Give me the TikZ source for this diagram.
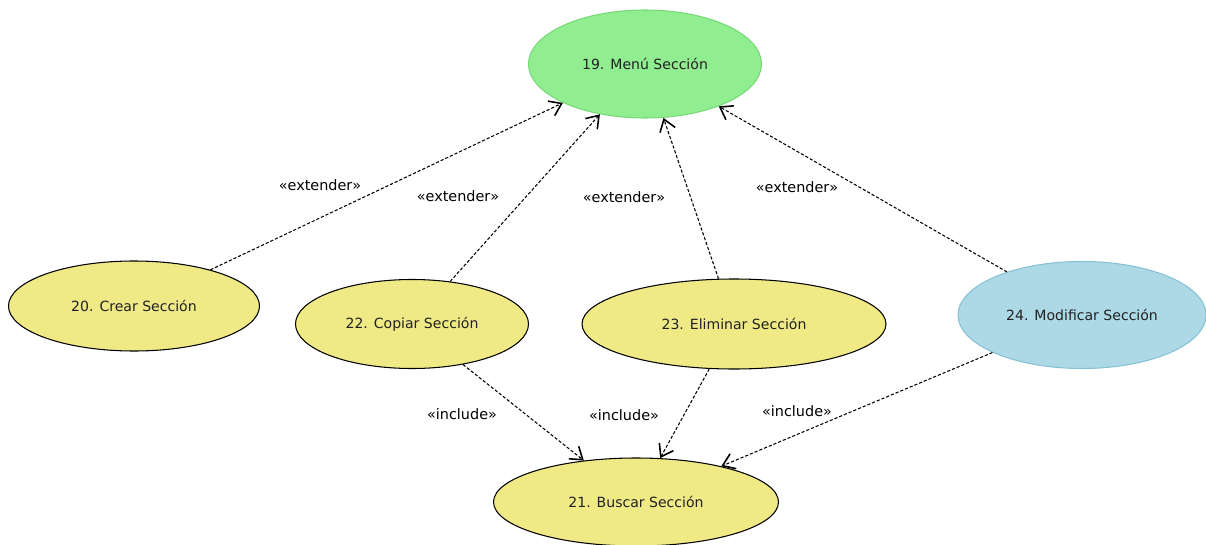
\documentclass[tikz,border=0pt]{standalone}
\usepackage{fontspec}
\setmainfont{DejaVu Sans}
\usetikzlibrary{shapes.geometric, arrows.meta}

\definecolor{menugreen}{HTML}{90EE90}
\definecolor{menuline}{HTML}{78D878}
\definecolor{casekhaki}{HTML}{EFEA86}
\definecolor{caseblue}{HTML}{ADD8E6}
\definecolor{blueline}{HTML}{86C2D6}
\definecolor{casetext}{HTML}{222222}

\tikzset{
  usecase/.style={ellipse, draw=black, line width=0.6pt, fill=casekhaki,
    inner sep=0pt, text=casetext, font=\fontsize{8}{10}\selectfont},
  relation/.style={draw=black, line width=0.6pt, dash pattern=on 1.8pt off 1.1pt,
    -{Straight Barb[length=2.3mm, width=3.2mm, line width=0.9pt]}},
  stereo/.style={font=\fontsize{8.2}{10}\selectfont, inner sep=0pt}
}

\begin{document}
\begin{tikzpicture}[x=0.02cm, y=-0.02cm]
  \useasboundingbox (0,0) rectangle (1206,544);
  % Use cases
  \node[usecase, fill=menugreen, draw=menuline, minimum width=233*0.02cm, minimum height=108*0.02cm]
      (menu) at (645,64) {19. Menú Sección};
  \node[usecase, minimum width=251*0.02cm, minimum height=90*0.02cm]
      (crear) at (134,306) {20. Crear Sección};
  \node[usecase, minimum width=233*0.02cm, minimum height=89*0.02cm]
      (copiar) at (412,324) {22. Copiar Sección};
  \node[usecase, minimum width=304*0.02cm, minimum height=90*0.02cm]
      (eliminar) at (734,324) {23. Eliminar Sección};
  \node[usecase, fill=caseblue, draw=blueline, minimum width=248*0.02cm, minimum height=107*0.02cm]
      (modificar) at (1082,315) {24. Modificar Sección};
  \node[usecase, minimum width=285*0.02cm, minimum height=88*0.02cm]
      (buscar) at (636,502) {21. Buscar Sección};
  % extender relations
  \foreach \src in {crear, copiar, eliminar, modificar}
      \draw[relation] (\src) -- (menu);
  \node[stereo] (ext1) at (320,185) {«extender»};
  \node[stereo] (ext2) at (458,196) {«extender»};
  \node[stereo] (ext3) at (624,197) {«extender»};
  \node[stereo] (ext4) at (797,187) {«extender»};
  % include relations
  \foreach \src in {copiar, eliminar, modificar}
      \draw[relation] (\src) -- (buscar);
  \node[stereo] (inc1) at (462,414) {«include»};
  \node[stereo] (inc2) at (624,415) {«include»};
  \node[stereo] (inc3) at (797,411) {«include»};
\end{tikzpicture}
\end{document}
